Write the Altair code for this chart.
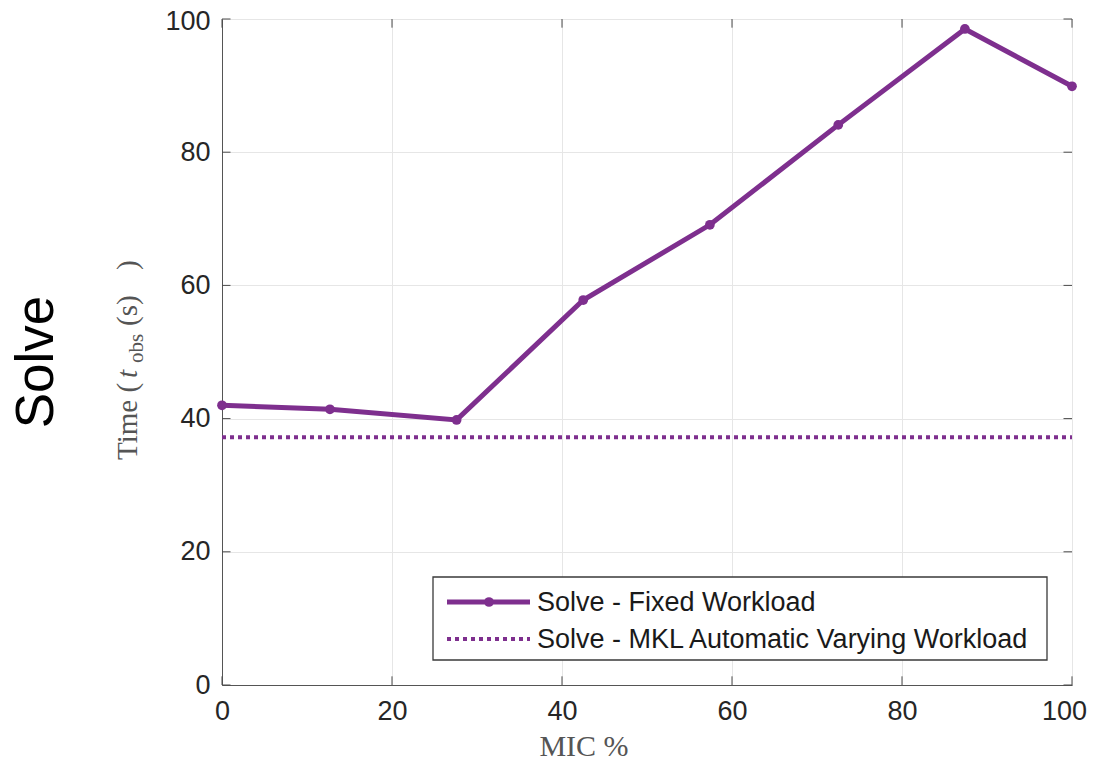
import altair as alt
import pandas as pd

# ---- data ----
mic_pct = [0, 12.7, 27.6, 42.5, 57.4, 72.5, 87.4, 100]
fixed_workload = [42.0, 41.4, 39.8, 57.8, 69.1, 84.1, 98.5, 89.9]
mkl_auto_level = 37.2
tick_values = [0, 20, 40, 60, 80, 100]
legend_labels = ["Solve - Fixed Workload", "Solve - MKL Automatic Varying Workload"]
row_label = "Solve"

PURPLE = "#7E2F8E"
W, H = 850, 666

xs = alt.Scale(domain=[0, 100], nice=False, zero=False)
ys = alt.Scale(domain=[0, 100], nice=False, zero=False)

x_axis = alt.Axis(values=tick_values, title=None, labelFont="Liberation Sans",
                  labelFontSize=27, labelColor="#262626", ticks=False,
                  labelPadding=13, domainColor="#555555", gridColor="#e6e6e6",
                  grid=True, labelFlush=False,
                  labelOffset={"condition": {"test": "datum.value == 100", "value": -8}, "value": 0})
y_axis = alt.Axis(values=tick_values, title=None, labelFont="Liberation Sans",
                  labelFontSize=27, labelColor="#262626", ticks=False,
                  labelPadding=12, domainColor="#555555", gridColor="#e6e6e6",
                  grid=True, labelFlush=False,
                  labelOffset={"condition": {"test": "datum.value == 100", "value": 2}, "value": 0})

df = pd.DataFrame({"mic": mic_pct, "t": fixed_workload})

base_axes = alt.Chart(df).mark_line(strokeWidth=5, color=PURPLE).encode(
    x=alt.X("mic:Q", scale=xs, axis=x_axis),
    y=alt.Y("t:Q", scale=ys, axis=y_axis),
)
pts = alt.Chart(df).mark_point(filled=True, size=95, color=PURPLE, opacity=1).encode(
    x=alt.X("mic:Q", scale=xs), y=alt.Y("t:Q", scale=ys))

dotted = alt.Chart(pd.DataFrame({"x0": [0], "x1": [100], "y": [mkl_auto_level]})).mark_rule(
    color=PURPLE, strokeWidth=4, strokeDash=[4, 4]).encode(
    x=alt.X("x0:Q", scale=xs), x2="x1:Q", y=alt.Y("y:Q", scale=ys))

# inward ticks (MATLAB style) on all four sides
tk = pd.DataFrame({"v": tick_values})
tick_color = "#4a4a4a"
bottom_ticks = alt.Chart(tk).transform_calculate(a="0", b="1.3").mark_rule(color=tick_color).encode(
    x=alt.X("v:Q", scale=xs), y=alt.Y("a:Q", scale=ys), y2="b:Q")
top_ticks = alt.Chart(tk).transform_calculate(a="100", b="98.7").mark_rule(color=tick_color).encode(
    x=alt.X("v:Q", scale=xs), y=alt.Y("a:Q", scale=ys), y2="b:Q")
left_ticks = alt.Chart(tk).transform_calculate(a="0", b="1").mark_rule(color=tick_color).encode(
    y=alt.Y("v:Q", scale=ys), x=alt.X("a:Q", scale=xs), x2="b:Q")
right_ticks = alt.Chart(tk).transform_calculate(a="100", b="99").mark_rule(color=tick_color).encode(
    y=alt.Y("v:Q", scale=ys), x=alt.X("a:Q", scale=xs), x2="b:Q")

one = pd.DataFrame({"k": [0]})

# legend box
leg_box = alt.Chart(one).mark_rect(fill="white", stroke="#3a3a3a", strokeWidth=1.3).encode(
    x=alt.value(211), x2=alt.value(825), y=alt.value(558), y2=alt.value(641))
leg_line1 = alt.Chart(one).mark_rule(color=PURPLE, strokeWidth=5).encode(
    x=alt.value(225), x2=alt.value(308), y=alt.value(583))
leg_pt1 = alt.Chart(one).mark_point(filled=True, size=95, color=PURPLE, opacity=1).encode(
    x=alt.value(267), y=alt.value(583))
leg_line2 = alt.Chart(one).mark_rule(color=PURPLE, strokeWidth=4, strokeDash=[4, 4]).encode(
    x=alt.value(225), x2=alt.value(308), y=alt.value(620))
leg_t1 = alt.Chart(one).mark_text(text=legend_labels[0], font="Liberation Sans", fontSize=27,
                                  align="left", baseline="middle", color="#1a1a1a").encode(
    x=alt.value(315), y=alt.value(584))
leg_t2 = alt.Chart(one).mark_text(text=legend_labels[1], font="Liberation Sans", fontSize=27,
                                  align="left", baseline="middle", color="#1a1a1a").encode(
    x=alt.value(315), y=alt.value(621))

# axis titles (serif, LaTeX-like)
SERIF = "Liberation Serif"
TC = "#555555"
yt1 = alt.Chart(one).mark_text(text="Time (", font=SERIF, fontSize=29, angle=270, align="left",
                               baseline="alphabetic", color=TC).encode(x=alt.value(-85), y=alt.value(441))
yt2 = alt.Chart(one).mark_text(text="t", font=SERIF, fontStyle="italic", fontSize=29, angle=270,
                               align="left", baseline="alphabetic", color=TC).encode(x=alt.value(-85), y=alt.value(359))
yt3 = alt.Chart(one).mark_text(text="obs", font=SERIF, fontSize=21, angle=270, align="left",
                               baseline="alphabetic", color=TC).encode(x=alt.value(-79), y=alt.value(344))
yt4 = alt.Chart(one).mark_text(text="(s)", font=SERIF, fontSize=29, angle=270, align="left",
                               baseline="alphabetic", color=TC).encode(x=alt.value(-85), y=alt.value(307))
yt5 = alt.Chart(one).mark_text(text=")", font=SERIF, fontSize=29, angle=270, align="left",
                               baseline="alphabetic", color=TC).encode(x=alt.value(-85), y=alt.value(251))
xt = alt.Chart(one).mark_text(text="MIC %", font=SERIF, fontSize=30, align="center",
                              baseline="alphabetic", color=TC).encode(x=alt.value(362), y=alt.value(737))

solve_lbl = alt.Chart(one).mark_text(text=row_label, font="Liberation Sans", fontSize=53, angle=270,
                                     align="center", baseline="alphabetic", color="black").encode(
    x=alt.value(-169), y=alt.value(343))

chart = alt.layer(
    base_axes, bottom_ticks, top_ticks, left_ticks, right_ticks, dotted, pts,
    leg_box, leg_line1, leg_pt1, leg_line2, leg_t1, leg_t2,
    yt1, yt2, yt3, yt4, yt5, xt, solve_lbl,
).properties(
    width=W, height=H,
    padding={"left": 214, "top": 11, "right": 16, "bottom": 74},
    autosize=alt.AutoSizeParams(type="none"),
    background="white",
).configure_view(stroke="#707070", strokeWidth=1)

chart.save("out.html", embed_options={"renderer": "svg", "actions": False})
